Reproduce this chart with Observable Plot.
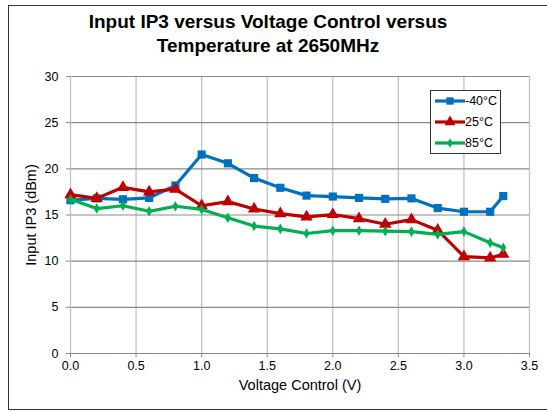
<!DOCTYPE html>
<html>
<head>
<meta charset="utf-8">
<script src="https://cdn.jsdelivr.net/npm/d3@7"></script>
<script src="https://cdn.jsdelivr.net/npm/@observablehq/plot@0.6"></script>
<style>
  body { margin: 0; background: #fff; font-family: "Liberation Sans", Arial, sans-serif; }
  #wrap { position: relative; width: 547px; height: 411px; overflow: hidden; background: #fff; }
  #frame { position: absolute; left: 8px; top: 5px; width: 560px; height: 405px; border: 1px solid #333; box-sizing: border-box; }
  #title { position: absolute; left: 0; top: 10px; width: 536px; text-align: center; font-weight: bold; font-size: 19px; line-height: 24px; color: #000; }
  #chart { position: absolute; left: 0; top: 0; }
  #legend { position: absolute; left: 430px; top: 90px; width: 71px; height: 64px; border: 1px solid #333; box-sizing: border-box; background: #fff; }
  .item { position: absolute; left: 3px; height: 14px; font-size: 12.5px; line-height: 14px; color: #000; }
  .item svg { position: absolute; left: 0; top: 0; }
  .item span { position: absolute; left: 31px; top: 0; white-space: nowrap; }
</style>
</head>
<body>
<div id="wrap">
  <div id="frame"></div>
  <div id="title">Input IP3 versus Voltage Control versus<br>Temperature at 2650MHz</div>
  <div id="chart"></div>
  <div id="legend"></div>
</div>
<script>
const voltages = [0, 0.2, 0.4, 0.6, 0.8, 1.0, 1.2, 1.4, 1.6, 1.8, 2.0, 2.2, 2.4, 2.6, 2.8, 3.0, 3.2, 3.3];
const ip3Minus40 = [16.6, 16.8, 16.7, 16.85, 18.2, 21.55, 20.6, 19.0, 17.95, 17.1, 17.0, 16.85, 16.75, 16.8, 15.75, 15.35, 15.35, 17.05];
const ip3At25 = [17.2, 16.8, 18.0, 17.5, 17.8, 16.0, 16.45, 15.65, 15.15, 14.8, 15.05, 14.6, 14.0, 14.5, 13.35, 10.5, 10.35, 10.75];
const ip3At85 = [16.7, 15.7, 16.0, 15.4, 15.95, 15.6, 14.7, 13.8, 13.5, 13.0, 13.3, 13.3, 13.25, 13.2, 12.9, 13.2, 12.0, 11.45];
const seriesNames = ["-40°C", "25°C", "85°C"];
const seriesColors = ["#0070C0", "#C00000", "#00B050"];
const seriesSymbols = ["square", "triangle", "diamond"];
const seriesR = [4.6, 4.6, 3.2];
const xTicks = [0, 0.5, 1, 1.5, 2, 2.5, 3, 3.5];
const yTicks = [0, 5, 10, 15, 20, 25, 30];
const xTitle = "Voltage Control (V)";
const yTitle = "Input IP3 (dBm)";

const allSeries = [ip3Minus40, ip3At25, ip3At85];
const rows = [];
allSeries.forEach((vals, s) => vals.forEach((v, i) => rows.push({v: voltages[i], y: v, s: seriesNames[s]})));

const marks = [
  Plot.ruleX(xTicks.filter(d => d > 0), {stroke: "#bdbdbd", strokeWidth: 1.2, y1: 0, y2: 30}),
  Plot.ruleY(yTicks, {stroke: "#8a8a8a", strokeWidth: 1.1}),
  Plot.ruleX([0], {stroke: "#bdbdbd", strokeWidth: 1.2, y1: 0, y2: 30}),
  Plot.axisX({ticks: xTicks, tickFormat: d3.format(".1f"), tickSize: 4, tickPadding: 4, stroke: "#8a8a8a", fontSize: 12.5, label: null}),
  Plot.axisY({ticks: yTicks, tickSize: 4, tickPadding: 8, stroke: "#8a8a8a", fontSize: 12.5, label: null}),
  Plot.text([xTitle], {frameAnchor: "bottom", dy: 32, lineAnchor: "middle", fontSize: 14.5, fill: "#000"}),
  Plot.text([yTitle], {frameAnchor: "left", dx: -39, rotate: -90, lineAnchor: "middle", textAnchor: "middle", fontSize: 14.5, fill: "#000"})
];
seriesNames.forEach((name, s) => {
  const data = rows.filter(d => d.s === name);
  marks.push(Plot.line(data, {x: "v", y: "y", stroke: seriesColors[s], strokeWidth: 3.2}));
  marks.push(Plot.dot(data, {x: "v", y: "y", fill: seriesColors[s], stroke: "none", symbol: seriesSymbols[s], r: seriesR[s]}));
});

const chart = Plot.plot({
  width: 547,
  height: 411,
  marginTop: 76,
  marginRight: 18,
  marginBottom: 58,
  marginLeft: 70,
  style: {fontFamily: "'Liberation Sans', Arial, sans-serif", fontSize: "12.5px", color: "#000", background: "transparent"},
  x: {domain: [0, 3.5]},
  y: {domain: [0, 30]},
  marks
});
document.getElementById("chart").appendChild(chart);

// legend
const legend = document.getElementById("legend");
seriesNames.forEach((name, s) => {
  const item = document.createElement("div");
  item.className = "item";
  item.style.top = (2.7 + s * 21.3) + "px";
  const symType = [d3.symbolSquare, d3.symbolTriangle, d3.symbolDiamond][s];
  const size = Math.PI * seriesR[s] * seriesR[s] * 0.8;
  item.innerHTML = `<svg width="32" height="14"><line x1="1" x2="31" y1="7" y2="7" stroke="${seriesColors[s]}" stroke-width="3.2"/><path transform="translate(16,7)" d="${d3.symbol(symType, size)()}" fill="${seriesColors[s]}"/></svg><span>${name}</span>`;
  legend.appendChild(item);
});
</script>
</body>
</html>
